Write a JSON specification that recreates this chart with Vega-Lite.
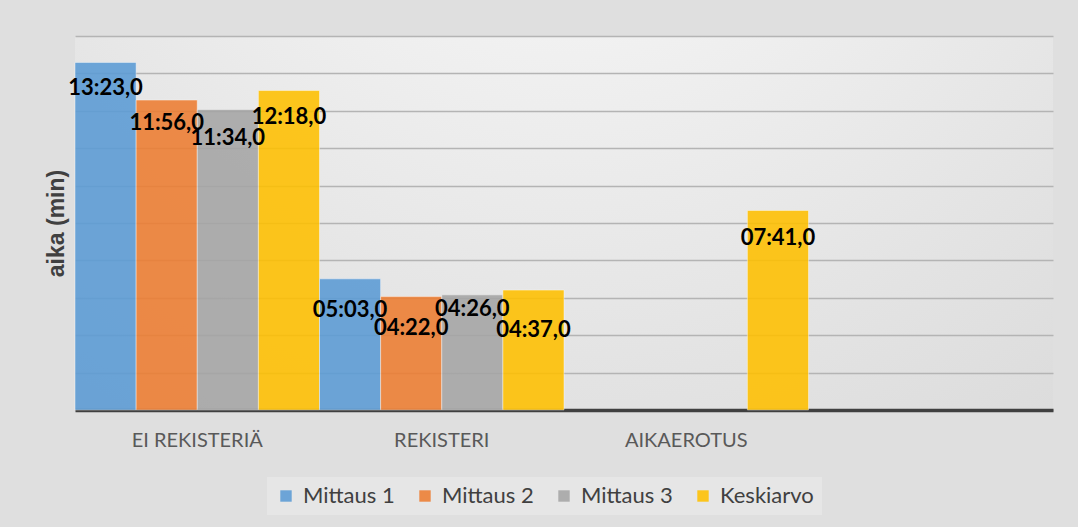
{
  "$schema": "https://vega.github.io/schema/vega-lite/v6.json",
  "width": 978,
  "height": 374,
  "autosize": {"type": "none"},
  "padding": {"left": 75, "top": 36, "right": 25, "bottom": 117},
  "background": "#dfdfdf",
  "view": {
    "stroke": null,
    "fill": {
      "gradient": "radial",
      "x1": 0.5, "y1": 0.0, "r1": 0,
      "x2": 0.5, "y2": 0.0, "r2": 1.1,
      "stops": [
        {"offset": 0, "color": "#fdfdfd"},
        {"offset": 0.6, "color": "#e3e3e3"},
        {"offset": 1, "color": "#d3d3d3"}
      ]
    }
  },
  "config": {
    "font": "Lato",
    "text": {"baseline": "middle", "align": "center", "font": "Lato", "fontWeight": "bold", "fontSize": 22, "color": "#000000"}
  },
  "datasets": {
    "bars": [
      {"kategoria": "EI REKISTERIÄ", "sarja": "Mittaus 1", "sekunnit": 803, "teksti": "13:23,0"},
      {"kategoria": "EI REKISTERIÄ", "sarja": "Mittaus 2", "sekunnit": 716, "teksti": "11:56,0"},
      {"kategoria": "EI REKISTERIÄ", "sarja": "Mittaus 3", "sekunnit": 694, "teksti": "11:34,0"},
      {"kategoria": "EI REKISTERIÄ", "sarja": "Keskiarvo", "sekunnit": 738, "teksti": "12:18,0"},
      {"kategoria": "REKISTERI", "sarja": "Mittaus 1", "sekunnit": 303, "teksti": "05:03,0"},
      {"kategoria": "REKISTERI", "sarja": "Mittaus 2", "sekunnit": 262, "teksti": "04:22,0"},
      {"kategoria": "REKISTERI", "sarja": "Mittaus 3", "sekunnit": 266, "teksti": "04:26,0"},
      {"kategoria": "REKISTERI", "sarja": "Keskiarvo", "sekunnit": 277, "teksti": "04:37,0"},
      {"kategoria": "AIKAEROTUS", "sarja": "Keskiarvo", "sekunnit": 461, "teksti": "07:41,0"}
    ]
  },
  "data": {"name": "bars"},
  "encoding": {
    "x": {
      "field": "kategoria", "type": "nominal",
      "scale": {"domain": ["EI REKISTERIÄ", "REKISTERI", "AIKAEROTUS", " "], "paddingInner": 0, "paddingOuter": 0},
      "sort": null,
      "axis": {
        "title": null, "labelAngle": 0, "ticks": false,
        "domainColor": "#404040", "domainWidth": 3.5,
        "labelFont": "Lato", "labelFontSize": 20, "labelColor": "#595959",
        "labelPadding": 20, "labelBaseline": "top"
      }
    },
    "xOffset": {
      "field": "sarja", "type": "nominal",
      "scale": {"domain": ["Mittaus 1", "Mittaus 2", "Mittaus 3", "Keskiarvo"], "paddingInner": 0, "paddingOuter": 0}
    },
    "y": {
      "field": "sekunnit", "type": "quantitative",
      "scale": {"domain": [0, 864], "nice": false},
      "axis": {
        "title": "aika (min)", "titleFont": "Liberation Sans", "titleFontWeight": "bold", "titleFontSize": 23, "titleColor": "#404040",
        "titlePadding": 7,
        "labels": false, "ticks": false, "domain": false,
        "tickCount": 30,
        "values": [0, 86.4, 172.8, 259.2, 345.6, 432, 518.4, 604.8, 691.2, 777.6, 864],
        "gridColor": "#b4b4b4", "gridWidth": 1.6
      }
    }
  },
  "layer": [
    {
      "mark": {"type": "bar", "opacity": 0.88, "stroke": "#ffffff", "strokeOpacity": 0.45, "strokeWidth": 1},
      "encoding": {
        "color": {
          "field": "sarja", "type": "nominal",
          "scale": {"domain": ["Mittaus 1", "Mittaus 2", "Mittaus 3", "Keskiarvo"], "range": ["#5B9BD5", "#ED7D31", "#A5A5A5", "#FFC000"]},
          "legend": {
            "title": null, "orient": "none", "direction": "horizontal",
            "legendX": 192, "legendY": 441,
            "fillColor": "#e6e6e6", "padding": 8,
            "symbolType": "square", "symbolSize": 130, "symbolOpacity": 0.88, "symbolStrokeWidth": 0,
            "labelFont": "Lato", "labelFontSize": 22, "labelColor": "#404040",
            "labelOffset": 6, "columnPadding": 19
          }
        }
      }
    },
    {
      "transform": [{"filter": "datum.kategoria == 'EI REKISTERIÄ' && (datum.sarja == 'Mittaus 1' || datum.sarja == 'Keskiarvo')"}],
      "mark": {"type": "text", "dy": 26},
      "encoding": {"text": {"field": "teksti"}}
    },
    {
      "transform": [{"filter": "datum.kategoria == 'EI REKISTERIÄ' && datum.sarja == 'Mittaus 2'"}],
      "mark": {"type": "text", "dy": 23},
      "encoding": {"text": {"field": "teksti"}}
    },
    {
      "transform": [{"filter": "(datum.kategoria == 'EI REKISTERIÄ' && datum.sarja == 'Mittaus 3') || datum.kategoria == 'AIKAEROTUS'"}],
      "mark": {"type": "text", "dy": 28},
      "encoding": {"text": {"field": "teksti"}}
    },
    {
      "transform": [{"filter": "datum.kategoria == 'REKISTERI' && (datum.sarja == 'Mittaus 1' || datum.sarja == 'Mittaus 2')"}],
      "mark": {"type": "text", "dy": 31},
      "encoding": {"text": {"field": "teksti"}}
    },
    {
      "transform": [{"filter": "datum.kategoria == 'REKISTERI' && datum.sarja == 'Mittaus 3'"}],
      "mark": {"type": "text", "dy": 14},
      "encoding": {"text": {"field": "teksti"}}
    },
    {
      "transform": [{"filter": "datum.kategoria == 'REKISTERI' && datum.sarja == 'Keskiarvo'"}],
      "mark": {"type": "text", "dy": 40},
      "encoding": {"text": {"field": "teksti"}}
    }
  ]
}
